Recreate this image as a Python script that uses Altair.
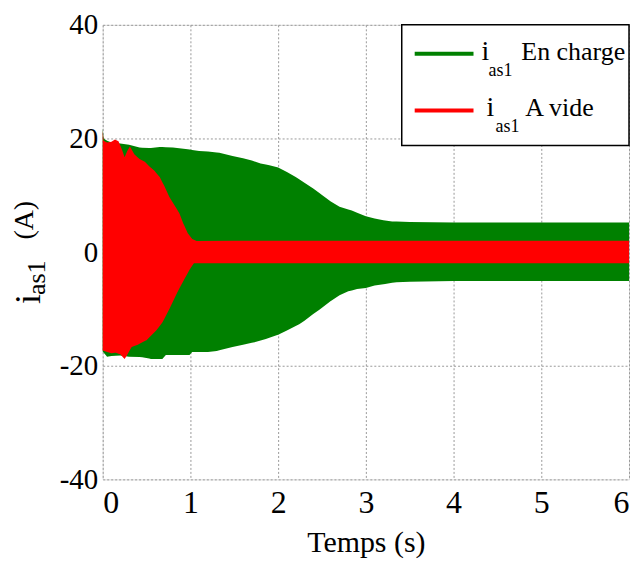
import altair as alt
import pandas as pd

# ---- data: envelopes of the simulated stator current (A) vs time (s) ----
t_charge = [0, 0.01, 0.05, 0.1, 0.2, 0.3, 0.42, 0.53, 0.65, 0.8, 0.97, 1.1, 1.2, 1.33,
            1.48, 1.6, 1.7, 1.8, 1.9, 2.0, 2.1, 2.2, 2.3, 2.4, 2.47, 2.6, 2.7, 2.84,
            3.0, 3.1, 3.2, 3.3, 3.5, 4.0, 4.5, 5.0, 5.5, 6.0]
up_charge = [21.8, 20.0, 19.6, 19.3, 19.1, 18.9, 18.4, 18.3, 18.5, 18.4, 18.1, 17.8, 17.7, 17.5,
             16.9, 16.5, 16.1, 15.6, 15.3, 14.9, 14.1, 13.2, 12.2, 11.2, 10.4, 8.9, 8.0, 7.3,
             6.3, 5.9, 5.6, 5.4, 5.3, 5.2, 5.2, 5.2, 5.2, 5.2]
t_charge_lo = [0, 0.05, 0.1, 0.2, 0.3, 0.45, 0.55, 0.68, 0.72, 0.99, 1.02, 1.2, 1.3, 1.48,
               1.6, 1.75, 1.86, 1.99, 2.1, 2.24, 2.3, 2.4, 2.5, 2.61, 2.7, 2.8, 2.9, 3.0,
               3.1, 3.22, 3.35, 3.5, 4.0, 4.5, 5.0, 5.5, 6.0]
lo_charge = [-17.5, -18.4, -18.3, -18.2, -18.4, -18.5, -18.8, -18.8, -18.1, -18.1, -17.6, -17.6, -17.4, -16.7,
             -16.3, -15.8, -15.3, -14.6, -13.8, -12.7, -12.1, -10.9, -9.8, -8.5, -7.6, -6.9, -6.5, -6.3,
             -5.9, -5.6, -5.3, -5.2, -5.1, -5.1, -5.1, -5.1, -5.1]

t_vide = [0, 0.01, 0.05, 0.1, 0.14, 0.18, 0.22, 0.25, 0.28, 0.31, 0.36, 0.42, 0.48, 0.53,
          0.59, 0.65, 0.7, 0.76, 0.82, 0.875, 0.92, 0.97, 1.02, 1.07, 1.5, 2.0, 3.0, 4.0, 5.0, 6.0]
up_vide = [21.4, 19.6, 19.3, 19.4, 19.8, 19.5, 18.0, 16.7, 17.8, 18.6, 17.2, 16.4, 15.9, 15.1,
           14.3, 13.2, 11.7, 9.7, 8.2, 6.8, 5.0, 3.3, 2.3, 1.95, 2.0, 2.0, 2.0, 2.0, 2.0, 2.0]
t_vide_lo = [0, 0.05, 0.1, 0.15, 0.2, 0.25, 0.29, 0.33, 0.4, 0.5, 0.61, 0.68, 0.76, 0.85,
             0.93, 0.99, 1.04, 1.5, 2.0, 3.0, 4.0, 5.0, 6.0]
lo_vide = [-17.3, -17.6, -17.8, -17.7, -18.0, -18.8, -17.8, -16.7, -16.3, -15.5, -13.8, -12.4, -10.0, -7.1,
           -4.8, -3.1, -1.95, -1.95, -1.95, -1.95, -1.95, -1.95, -1.95]

x_ticks = [0, 1, 2, 3, 4, 5, 6]
y_ticks = [-40, -20, 0, 20, 40]
legend_names = ["En charge", "A vide"]
legend_colors = ["#008000", "#ff0000"]
sub_text = "as1"
x_title = "Temps (s)"
y_unit = "(A)"

FONT = "Liberation Serif"


def band(t_up, up, t_lo, lo):
    # merge both envelopes on a common time grid (values taken from the lists)
    ts = sorted(set(t_up) | set(t_lo))
    s_up = pd.Series(up, index=t_up).reindex(ts).interpolate(method="index")
    s_lo = pd.Series(lo, index=t_lo).reindex(ts).interpolate(method="index")
    return pd.DataFrame({"t": ts, "hi": s_up.values, "lo": s_lo.values})


df_charge = band(t_charge, up_charge, t_charge_lo, lo_charge)
df_vide = band(t_vide, up_vide, t_vide_lo, lo_vide)

x_enc = alt.X("t:Q", scale=alt.Scale(domain=[0, 6], nice=False),
              axis=alt.Axis(values=x_ticks, title=x_title, format="d",
                            labelFont=FONT, labelFontSize=32, labelColor="black",
                            titleFont=FONT, titleFontSize=30, titleFontWeight="normal",
                            titleColor="black", labelPadding=8, titlePadding=9,
                            grid=True, gridDash=[2, 2], gridColor="#9a9a9a", gridWidth=1,
                            ticks=False, domain=False))
y_enc = alt.Y("hi:Q", scale=alt.Scale(domain=[-40, 40], nice=False),
              axis=alt.Axis(values=y_ticks, title=None,
                            labelExpr="toString(datum.value)",
                            labelFont=FONT, labelFontSize=29, labelColor="black",
                            labelPadding=5,
                            grid=True, gridDash=[2, 2], gridColor="#9a9a9a", gridWidth=1,
                            ticks=False, domain=False))

area_charge = alt.Chart(df_charge).mark_area(color=legend_colors[0], opacity=1).encode(
    x=x_enc, y=y_enc, y2="lo:Q")
area_vide = alt.Chart(df_vide).mark_area(color=legend_colors[1], opacity=1).encode(
    x="t:Q", y="hi:Q", y2="lo:Q")

one = pd.DataFrame({"k": [0]})

# ---- legend box ----
leg_box = alt.Chart(one).mark_rect(fill="white", stroke="black", strokeWidth=1.5).encode(
    x=alt.value(300), x2=alt.value(528), y=alt.value(0), y2=alt.value(121))
leg_line1 = alt.Chart(one).mark_rule(color=legend_colors[0], strokeWidth=4).encode(
    x=alt.value(313), x2=alt.value(372), y=alt.value(29))
leg_line2 = alt.Chart(one).mark_rule(color=legend_colors[1], strokeWidth=4).encode(
    x=alt.value(313), x2=alt.value(372), y=alt.value(86))


def txt(s, x, y, size, align="left", angle=0):
    kw = dict(font=FONT, fontSize=size, align=align, baseline="alphabetic", color="black")
    if angle:
        kw["angle"] = angle
    return alt.Chart(one).mark_text(**kw).encode(
        x=alt.value(x), y=alt.value(y), text=alt.value(s))


leg_texts = [
    txt("i", 380, 35, 28), txt(sub_text, 387, 51, 18), txt(legend_names[0], 420, 35, 26),
    txt("i", 385, 91, 28), txt(sub_text, 394, 108, 18), txt(legend_names[1], 424, 91, 26),
]

# ---- y axis title built from pieces (i with subscript) ----
ytitle = [
    txt("i", -63, 275, 36, align="center", angle=270),
    txt(sub_text, -58, 271, 26, align="left", angle=270),
    txt(y_unit, -70, 196, 28, align="center", angle=270),
]

chart = alt.layer(area_charge, area_vide, leg_box, leg_line1, leg_line2,
                  *leg_texts, *ytitle).properties(
    width=528, height=456, autosize="none",
    padding={"left": 95, "top": 16, "right": 4, "bottom": 80},
).configure_view(stroke="black", strokeWidth=2).configure(background="white", font=FONT)

chart.save("out.html", embed_options={"renderer": "svg", "actions": False})
